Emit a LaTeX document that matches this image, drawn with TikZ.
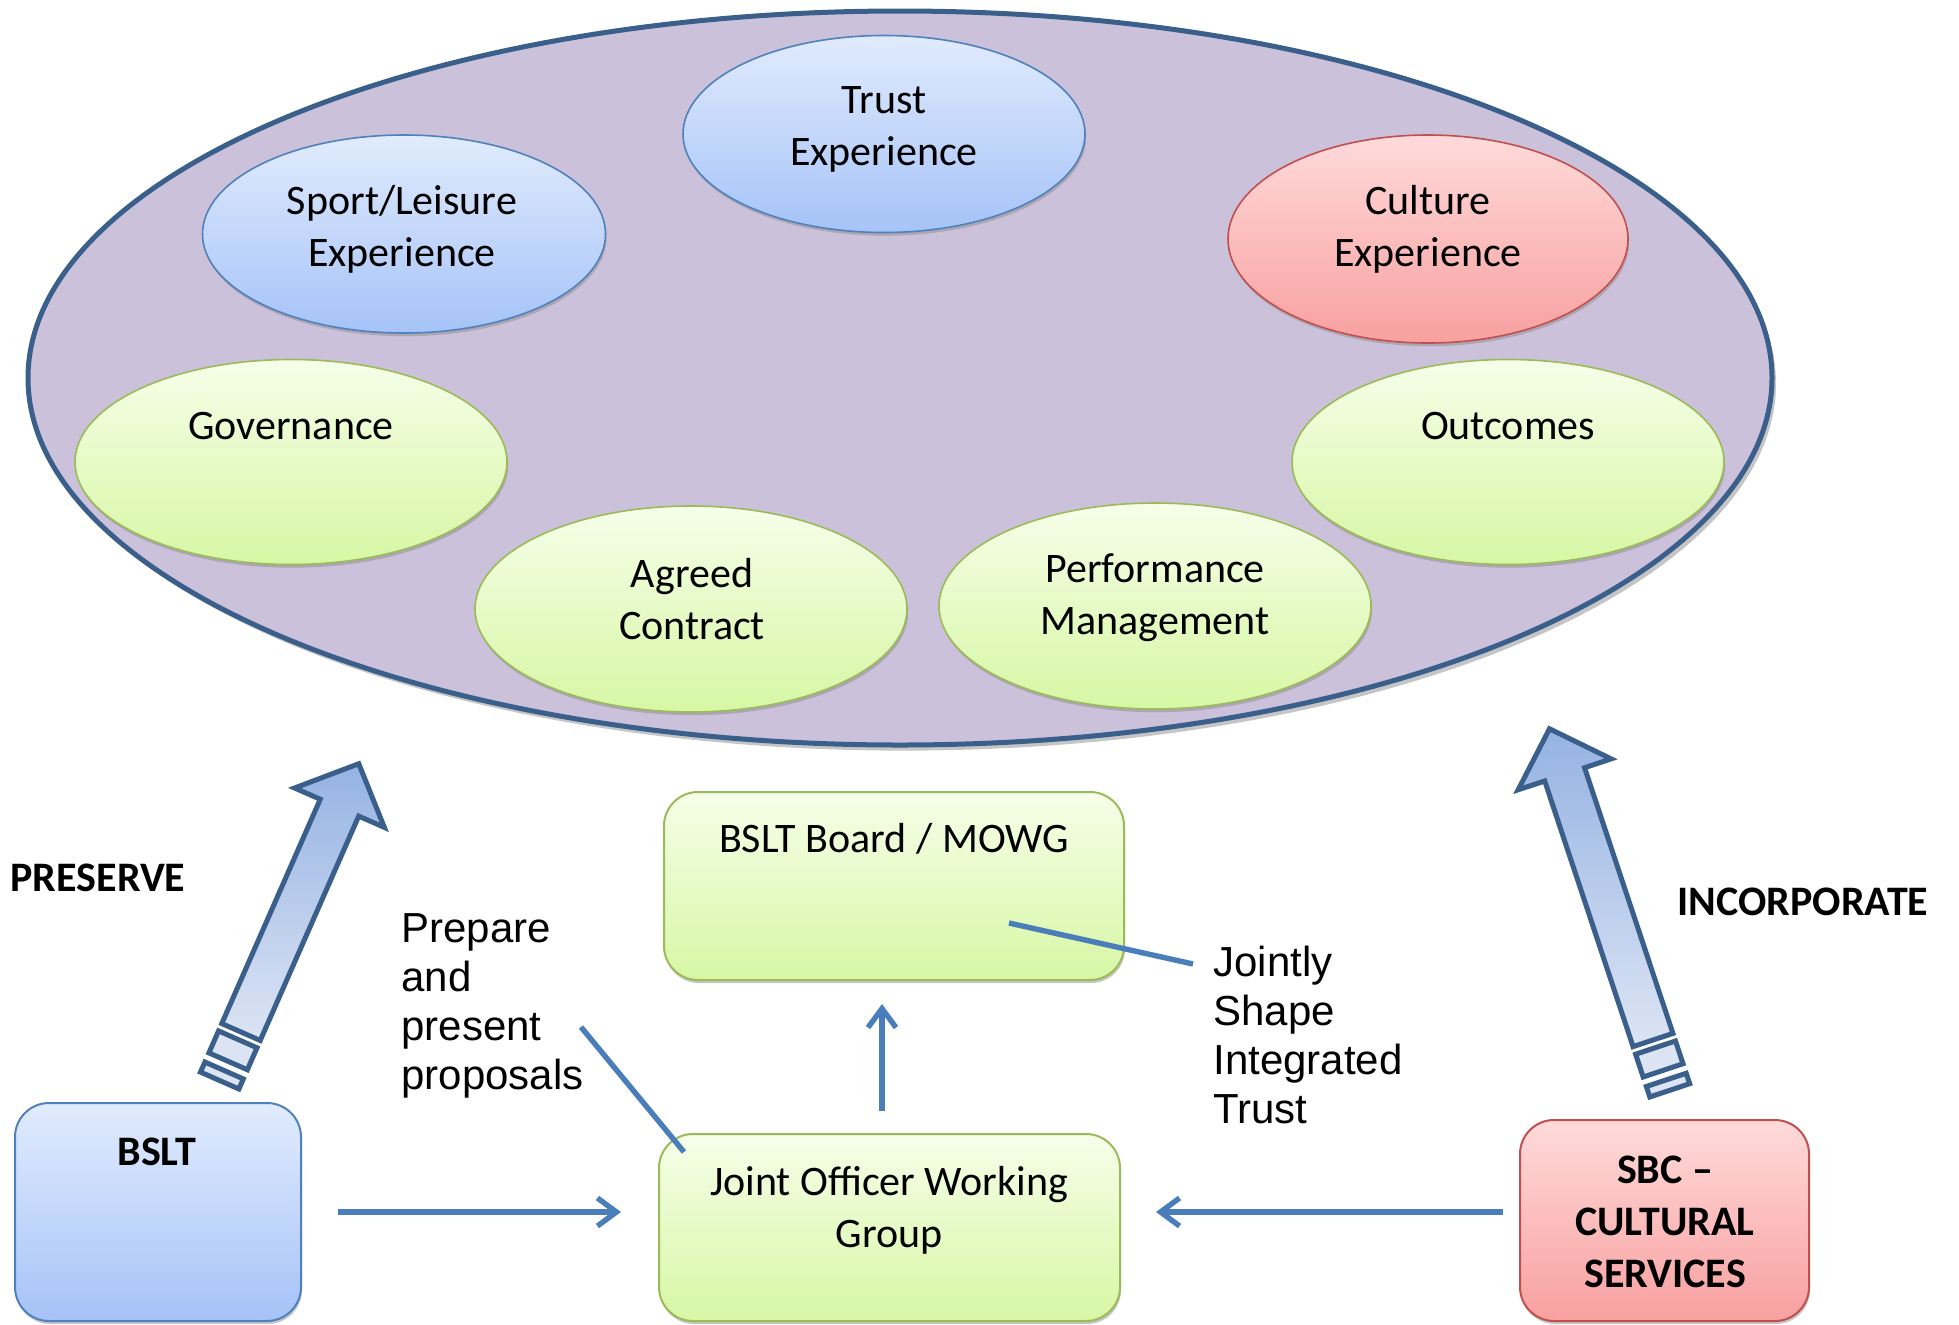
\documentclass[tikz,border=0pt]{standalone}
\usepackage{fontspec}
\setmainfont{Carlito}
\newfontfamily\arialfont{Liberation Sans}
\usetikzlibrary{shapes.geometric,shadows,arrows.meta}
\definecolor{purpfill}{HTML}{CCC1DA}
\definecolor{purpline}{HTML}{3A5F8B}
\definecolor{bluetop}{HTML}{E1EBFD}
\definecolor{bluebot}{HTML}{A5C3F8}
\definecolor{blueline}{HTML}{4F81BD}
\definecolor{redtop}{HTML}{FFDADA}
\definecolor{redbot}{HTML}{F8A0A0}
\definecolor{redline}{HTML}{C0504D}
\definecolor{greentop}{HTML}{F6FEE9}
\definecolor{greenbot}{HTML}{D7F7A4}
\definecolor{greenline}{HTML}{9BBB59}
\definecolor{connblue}{HTML}{4A7EBB}
\definecolor{arrowline}{HTML}{3A5F8B}
\definecolor{arrowtop}{HTML}{95B3E3}
\definecolor{arrowbot}{HTML}{DCE4F4}
\begin{document}
\begin{tikzpicture}[x=0.5pt,y=-0.5pt,
  oval/.style={ellipse,inner sep=0pt,line width=0.8pt,
    drop shadow={shadow xshift=0.6pt,shadow yshift=-1.6pt,fill=black!45}},
  blueoval/.style={oval,draw=blueline,top color=bluetop,bottom color=bluebot},
  redoval/.style={oval,draw=redline,top color=redtop,bottom color=redbot},
  greenoval/.style={oval,draw=greenline,top color=greentop,bottom color=greenbot},
  box/.style={rectangle,rounded corners=17pt,line width=1pt,inner sep=0pt,
    drop shadow={shadow xshift=0.5pt,shadow yshift=-1.5pt,fill=black!45}},
  bluebox/.style={box,draw=blueline,top color=bluetop,bottom color=bluebot},
  greenbox/.style={box,draw=greenline,top color=greentop,bottom color=greenbot},
  redbox/.style={box,draw=redline,top color=redtop,bottom color=redbot},
  lbl/.style={font=\fontsize{21}{26}\selectfont,align=center,inner sep=0pt},
  sidetext/.style={font=\arialfont\fontsize{21}{24.5}\selectfont,align=left,inner sep=0pt},
  conn/.style={draw=connblue,line width=2.7pt},
  connarrow/.style={conn,-{Straight Barb[length=9.5pt,width=14pt]}},
  bigarrow/.style={draw=arrowline,line width=2.5pt,line join=miter,bottom color=arrowbot,top color=arrowtop},
  stripe/.style={draw=arrowline,line width=2.5pt,fill=arrowbot}]
\useasboundingbox (0,0) rectangle (1959,1324);

% outer ellipse
\node[ellipse,draw=purpline,line width=2.5pt,fill=purpfill,inner sep=0pt,
  minimum width=872pt,minimum height=367pt,
  drop shadow={shadow xshift=2pt,shadow yshift=-2.8pt,fill=black!45}] (outer) at (900,378) {};

% inner ellipses
\node[blueoval,minimum width=201pt,minimum height=98.5pt] (trust) at (884,134) {};
\node[blueoval,minimum width=201.5pt,minimum height=99pt] (sport) at (404,234) {};
\node[redoval,minimum width=200pt,minimum height=104pt] (culture) at (1428,239) {};
\node[greenoval,minimum width=216pt,minimum height=102.5pt] (gov) at (291,462) {};
\node[greenoval,minimum width=216pt,minimum height=102.5pt] (outc) at (1508,462) {};
\node[greenoval,minimum width=216pt,minimum height=103pt] (agreed) at (691,609) {};
\node[greenoval,minimum width=216pt,minimum height=103pt] (perf) at (1155,606) {};

\node[lbl] (trusttxt) at (884,129) {Trust\\Experience};
\node[lbl] (sporttxt) at (402,229) {Sport/Leisure\\Experience};
\node[lbl] (culturetxt) at (1428,229) {Culture\\Experience};
\node[lbl] (govtxt) at (291,426) {Governance};
\node[lbl] (outctxt) at (1508,426) {Outcomes};
\node[lbl] (agreedtxt) at (692,599) {Agreed\\Contract};
\node[lbl] (perftxt) at (1155,598) {Performance\\Management};

% boxes
\node[bluebox,minimum width=143pt,minimum height=109pt] (bslt) at (158,1212) {};
\node[greenbox,minimum width=230.5pt,minimum height=93.5pt] (jowg) at (889.5,1227.5) {};
\node[greenbox,minimum width=230pt,minimum height=94pt] (board) at (894,886) {};
\node[redbox,minimum width=144.5pt,minimum height=100.5pt] (sbc) at (1664.5,1220.5) {};

\node[lbl] (bslttxt) at (157,1152) {\bfseries BSLT};
\node[lbl] (jowgtxt) at (889,1210) {Joint Officer Working\\Group};
\node[lbl] (boardtxt) at (894,839) {BSLT Board / MOWG};
\node[lbl] (sbctxt) at (1665,1222) {\bfseries SBC –\\\bfseries CULTURAL\\\bfseries SERVICES};

\node[lbl] (preserve) at (98,878) {\bfseries PRESERVE};
\node[lbl] (incorp) at (1803,902) {\bfseries INCORPORATE};

\node[sidetext,anchor=west] (prep) at (401,1006) {Prepare\\and\\present\\proposals};
\node[sidetext,anchor=west] (joint) at (1213,1035) {Jointly\\Shape\\Integrated\\Trust};

% connectors
\draw[connarrow,shorten <=18pt,shorten >=18.5pt] (bslt.east) -- (bslt.east -| jowg.west);
\draw[connarrow,shorten <=8pt,shorten >=17.5pt] (sbc.west |- bslt.east) -- (jowg.east |- bslt.east);
\draw[connarrow,shorten <=11pt,shorten >=11.5pt] ([xshift=-3.75pt]jowg.north) -- ([xshift=-3.75pt]jowg.north |- board.south);

\coordinate (prepend) at (581,1027);
\coordinate (prepbox) at (684,1152);
\draw[conn] (prepend) -- (prepbox);
\coordinate (boardpt) at (1009,923);
\coordinate (jointend) at (1193,964);
\draw[conn] (boardpt) -- (jointend);

% big hollow arrows
\begin{scope}[shift={(241,1032)},rotate=66.3]
  \path[bigarrow] (0,-21) -- (245,-21) -- (245,-49) -- (293,0) -- (245,49) -- (245,21) -- (0,21) -- cycle;
  \path[stripe] (-8,-21) rectangle (-32,21);
  \path[stripe] (-42,-21) rectangle (-53,21);
\end{scope}
\begin{scope}[shift={(1653,1040)},rotate=108.4]
  \path[bigarrow] (0,-21) -- (280,-21) -- (280,-49) -- (328,0) -- (280,49) -- (280,21) -- (0,21) -- cycle;
  \path[stripe] (-8,-21) rectangle (-32,21);
  \path[stripe] (-42,-21) rectangle (-53,21);
\end{scope}
\end{tikzpicture}
\end{document}
